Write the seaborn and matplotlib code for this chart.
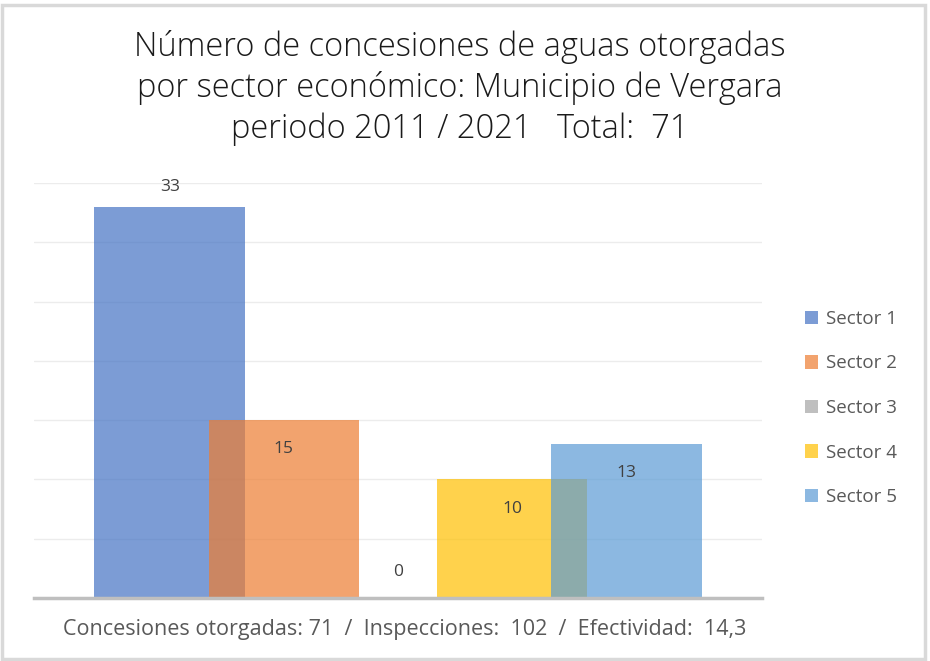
import matplotlib
matplotlib.use("Agg")
import matplotlib.pyplot as plt
import seaborn as sns
import pandas as pd
from matplotlib.patches import Rectangle

# chart data
sectors = ["Sector 1", "Sector 2", "Sector 3", "Sector 4", "Sector 5"]
concesiones = [33, 15, 0, 10, 13]
colors = ["#4472C4", "#ED7D31", "#A5A5A5", "#FFC000", "#5B9BD5"]
title = "Número de concesiones de aguas otorgadas\npor sector económico: Municipio de Vergara\nperiodo 2011 / 2021   Total:  71"
footer = "Concesiones otorgadas: 71  /  Inspecciones:  102  /  Efectividad:  14,3"

df = pd.DataFrame({"sector": sectors, "n": concesiones})

sns.set_style("white")
plt.rcParams["font.family"] = ["Open Sans", "DejaVu Sans"]

fig = plt.figure(figsize=(9.3, 6.61), dpi=100)
W, H = 930, 661
ax = fig.add_axes([34 / W, 1 - 598 / H, (762 - 34) / W, (598 - 183) / H])

sns.barplot(data=df, x="sector", y="n", hue="sector", palette=colors,
            width=1.32, alpha=0.7, dodge=False, legend=False, ax=ax,
            saturation=1, linewidth=0)

ax.set_xlim(-1.19, 5.19)
ax.set_ylim(0, 35)
ax.set_yticks(range(0, 36, 5))
ax.yaxis.grid(True, color="#ececec", linewidth=1)
ax.set_axisbelow(True)
ax.set_yticklabels([])
ax.set_xticks([])
ax.set_xlabel("")
ax.set_ylabel("")
ax.tick_params(left=False, bottom=False)
for s in ["top", "right", "left"]:
    ax.spines[s].set_visible(False)
ax.spines["bottom"].set_color("#bfbfbf")
ax.spines["bottom"].set_linewidth(2.5)

# data labels (offset in points, above / inside the bar end)
offsets = [14, -21, 19, -21, -21]
for i, v in enumerate(concesiones):
    ax.annotate(str(v), (i, v), xytext=(0, offsets[i]), textcoords="offset points",
                ha="center", va="center", fontsize=12.5, color="#404040")

# legend
handles = [Rectangle((0, 0), 1, 1, color=c, alpha=0.7, linewidth=0) for c in colors]
leg = fig.legend(handles, sectors, loc="center left", bbox_to_anchor=(788 / W, 1 - 408 / H),
                 frameon=False, fontsize=13.5, handlelength=0.72, handleheight=0.72,
                 handletextpad=0.4, labelspacing=1.42, labelcolor="#595959")

fig.text(460 / W, 1 - 88 / H, title, ha="center", va="center", fontsize=23.5,
         color="#1a1a1a", linespacing=1.3, fontweight="light")
fig.text(405 / W, 1 - 630 / H, footer, ha="center", va="center", fontsize=15.5,
         color="#595959")

# outer chart border
fig.patches.append(Rectangle((0.002, 0.003), 0.993, 0.99, transform=fig.transFigure,
                             fill=False, edgecolor="#d9d9d9", linewidth=2.5))

fig.savefig("out.png", dpi=100)
